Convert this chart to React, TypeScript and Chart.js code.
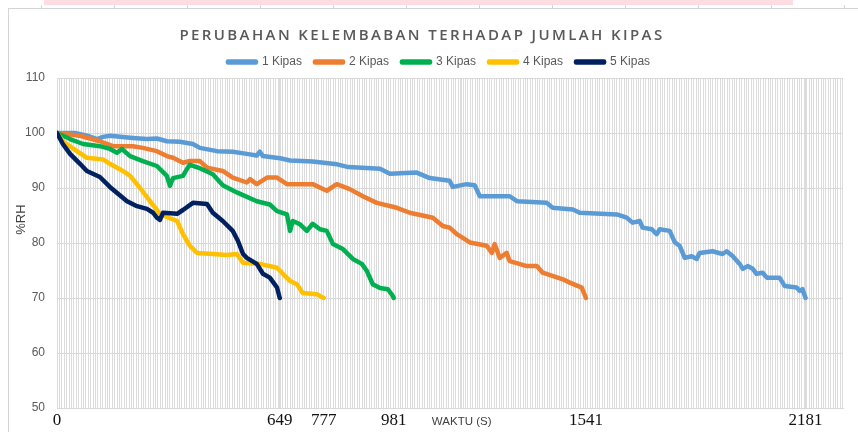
import React, { useEffect, useRef } from 'react';
import { Chart, registerables } from 'chart.js';

Chart.register(...registerables);

// ---------- data ----------
const chartTitle = 'PERUBAHAN KELEMBABAN TERHADAP JUMLAH KIPAS';
const seriesNames = ['1 Kipas', '2 Kipas', '3 Kipas', '4 Kipas', '5 Kipas'];
const seriesColors = ['#5B9BD5', '#ED7D31', '#00B050', '#FFC000', '#002060'];

const time1 = [0, 52, 88, 117, 134, 154, 221, 262, 291, 320, 358, 396, 416, 466, 512, 553, 582, 591, 600, 650, 679, 745, 816, 849, 941, 970, 1048, 1086, 1144, 1153, 1194, 1217, 1232, 1319, 1340, 1427, 1444, 1503, 1523, 1631, 1660, 1677, 1698, 1706, 1733, 1747, 1756, 1785, 1800, 1814, 1829, 1849, 1864, 1872, 1910, 1939, 1951, 1969, 1989, 1998, 2012, 2027, 2038, 2056, 2068, 2105, 2120, 2155, 2164, 2172, 2181];
const rh1 = [100, 100, 99.5, 98.9, 99.3, 99.5, 99.1, 98.9, 99.0, 98.5, 98.4, 98.0, 97.3, 96.7, 96.6, 96.2, 95.9, 96.6, 95.8, 95.4, 95.0, 94.8, 94.3, 93.8, 93.5, 92.6, 92.8, 91.8, 91.3, 90.2, 90.7, 90.5, 88.5, 88.5, 87.6, 87.3, 86.4, 86.1, 85.5, 85.2, 84.6, 83.7, 84.0, 82.8, 82.5, 81.6, 82.5, 82.2, 80.1, 79.5, 77.3, 77.6, 77.1, 78.2, 78.5, 78.0, 78.5, 77.6, 76.2, 75.3, 75.8, 75.3, 74.4, 74.6, 73.7, 73.7, 72.2, 71.9, 71.3, 71.6, 70];

const time2 = [0, 67, 125, 163, 221, 250, 291, 320, 338, 367, 387, 416, 437, 483, 512, 553, 562, 582, 612, 641, 670, 745, 786, 815, 853, 891, 932, 990, 1028, 1095, 1124, 1144, 1165, 1203, 1252, 1267, 1275, 1290, 1310, 1319, 1369, 1398, 1415, 1474, 1494, 1529, 1541];
const rh2 = [100, 99.5, 98.5, 97.6, 97.6, 97.3, 96.7, 95.8, 95.5, 94.6, 94.9, 94.9, 93.7, 93.1, 91.9, 91.0, 91.6, 90.7, 91.9, 91.9, 90.7, 90.7, 89.5, 90.7, 89.8, 88.5, 87.3, 86.4, 85.5, 84.6, 83.1, 82.8, 81.6, 80.1, 79.5, 78.2, 79.8, 77.3, 78.2, 76.7, 75.8, 75.8, 74.6, 73.4, 72.8, 71.9, 70];

const time3 = [0, 38, 76, 125, 154, 175, 189, 213, 250, 291, 320, 329, 338, 367, 379, 387, 416, 437, 454, 483, 524, 582, 620, 641, 670, 679, 687, 708, 728, 745, 766, 786, 804, 833, 862, 888, 903, 920, 941, 964, 978, 981];
const rh3 = [100, 98.9, 98.0, 97.6, 97.1, 96.4, 97.1, 95.8, 94.9, 94.0, 92.2, 90.4, 91.8, 92.2, 93.5, 94.2, 93.6, 93.0, 92.5, 90.5, 89.2, 87.6, 87.0, 85.8, 85.2, 82.2, 84.0, 83.4, 82.2, 83.5, 82.5, 82.2, 79.8, 78.9, 77.1, 76.2, 74.9, 72.5, 71.8, 71.6, 70.4, 70];

const time4 = [0, 17, 58, 87, 134, 154, 192, 213, 242, 271, 300, 329, 350, 367, 387, 408, 454, 495, 524, 542, 591, 641, 658, 679, 699, 716, 757, 777];
const rh4 = [100, 98.5, 96.7, 95.5, 95.2, 94.4, 93.1, 92.2, 90.0, 87.6, 85.3, 84.5, 84.0, 81.6, 79.5, 78.2, 78.0, 77.8, 78.0, 76.4, 76.2, 75.5, 74.4, 73.1, 72.5, 70.9, 70.7, 70];

const time5 = [0, 17, 38, 67, 87, 125, 154, 183, 204, 233, 262, 280, 291, 300, 309, 350, 367, 396, 437, 454, 483, 512, 527, 542, 553, 582, 600, 620, 641, 649];
const rh5 = [100, 98.0, 96.2, 94.4, 93.1, 92.0, 90.2, 88.7, 87.6, 86.7, 86.2, 85.5, 84.6, 84.2, 85.5, 85.3, 86.0, 87.3, 87.1, 85.5, 84.0, 82.2, 80.4, 78.0, 77.3, 76.2, 74.4, 73.7, 71.9, 70];

const seriesTimes = [time1, time2, time3, time4, time5];
const seriesRH = [rh1, rh2, rh3, rh4, rh5];

const xTickLabels = [0, 649, 777, 981, 1541, 2181];
const xAxisTitle = 'WAKTU (S)';
const xAxisTitleAt = 1179;
const xMax = 2290;
const xGridStep = 7;
const yMin = 50;
const yMax = 110;
const yStep = 10;
const yAxisTitle = '%RH';

// ---------- helpers ----------
const labelAt: Record<number, string> = {};
xTickLabels.forEach((v) => (labelAt[v] = String(v)));
labelAt[xAxisTitleAt] = xAxisTitle;

const xTickValues: number[] = [];
for (let v = 0; v <= xMax; v += xGridStep) xTickValues.push(v);
Object.keys(labelAt).forEach((k) => {
  const n = Number(k);
  if (!xTickValues.includes(n)) xTickValues.push(n);
});
xTickValues.sort((a, b) => a - b);

const decorPlugin = {
  id: 'decor',
  beforeDraw(chart: any) {
    const ctx = chart.ctx;
    const w = chart.width;
    const h = chart.height;
    ctx.save();
    ctx.fillStyle = '#ffffff';
    ctx.fillRect(0, 0, w, h);
    ctx.fillStyle = '#fddde2';
    ctx.fillRect(44, 0, 749, 5);
    ctx.strokeStyle = '#d4d4d4';
    ctx.lineWidth = 1;
    ctx.beginPath();
    ctx.moveTo(8, 8.5);
    ctx.lineTo(w, 8.5);
    ctx.moveTo(8.5, 8);
    ctx.lineTo(8.5, h);
    for (let x = 41; x < w; x += 73) {
      ctx.moveTo(x + 0.5, 5);
      ctx.lineTo(x + 0.5, 8);
    }
    ctx.stroke();
    ctx.restore();
    // shift the legend's centring box so the row sits where the reference has it
    if (chart.legend) {
      chart.legend.left = 35;
    }
  },
  afterDraw(chart: any) {
    const ctx = chart.ctx;
    ctx.save();
    ctx.font = '600 15px "Open Sans"';
    (ctx as any).letterSpacing = '2.4px';
    ctx.fillStyle = '#595959';
    ctx.textAlign = 'center';
    ctx.textBaseline = 'middle';
    ctx.fillText(chartTitle, 422, 36);
    ctx.restore();
  },
};

export default function App() {
  const canvasRef = useRef<HTMLCanvasElement | null>(null);

  useEffect(() => {
    if (!canvasRef.current) return;
    const datasets = seriesNames.map((name, i) => ({
      label: name,
      data: seriesTimes[i].map((t, j) => ({ x: t, y: seriesRH[i][j] })),
      borderColor: seriesColors[i],
      backgroundColor: seriesColors[i],
      borderWidth: 4.5,
      pointRadius: 0,
      tension: 0,
      borderJoinStyle: 'round' as const,
      borderCapStyle: 'round' as const,
      order: seriesNames.length - i,
    }));

    const chart = new Chart(canvasRef.current, {
      type: 'line',
      data: { datasets },
      plugins: [decorPlugin],
      options: {
        animation: false,
        responsive: true,
        maintainAspectRatio: false,
        layout: { padding: { top: 43, right: 15, left: 0, bottom: 0 } },
        plugins: {
          title: { display: false },
          tooltip: { enabled: false },
          legend: {
            display: true,
            position: 'top',
            labels: {
              boxWidth: 28,
              boxHeight: 1,
              padding: 13,
              color: '#595959',
              font: { family: '"Liberation Sans", Arial, sans-serif', size: 12 },
              sort: (a: any, b: any) => a.datasetIndex - b.datasetIndex,
            },
          },
        },
        scales: {
          x: {
            type: 'linear',
            min: 0,
            max: xMax,
            afterBuildTicks: (scale: any) => {
              scale.ticks = xTickValues.map((v) => ({ value: v }));
            },
            afterFit: (scale: any) => {
              scale.height = 24;
            },
            ticks: {
              autoSkip: false,
              maxRotation: 0,
              minRotation: 0,
              padding: 2,
              callback: (value: any) => labelAt[Number(value)] ?? '',
              color: (ctx: any) => (ctx.tick && labelAt[ctx.tick.value] === xAxisTitle ? '#404040' : '#111111'),
              font: (ctx: any) =>
                ctx.tick && labelAt[ctx.tick.value] === xAxisTitle
                  ? { family: '"Liberation Sans", Arial, sans-serif', size: 11.5, lineHeight: 2 }
                  : { family: '"Liberation Serif", "Times New Roman", serif', size: 17 },
            },
            grid: {
              color: '#dcdcdc',
              lineWidth: 1,
              drawTicks: false,
            },
            border: { display: true, color: '#d9d9d9' },
          },
          y: {
            min: yMin,
            max: yMax,
            afterFit: (scale: any) => {
              scale.width = 57;
            },
            ticks: {
              stepSize: yStep,
              padding: 12,
              color: '#595959',
              font: { family: '"Liberation Sans", Arial, sans-serif', size: 12 },
            },
            grid: { color: '#d9d9d9', drawTicks: false },
            border: { display: false },
            title: {
              display: true,
              text: '\u00a0'.repeat(13) + yAxisTitle,
              color: '#404040',
              font: { family: '"Liberation Sans", Arial, sans-serif', size: 13 },
              padding: { top: 14, bottom: 0 },
            },
          },
        },
      },
    });
    return () => chart.destroy();
  }, []);

  return (
    <div style={{ position: 'absolute', left: 0, top: 0, width: 858, height: 432 }}>
      <canvas ref={canvasRef} />
    </div>
  );
}
